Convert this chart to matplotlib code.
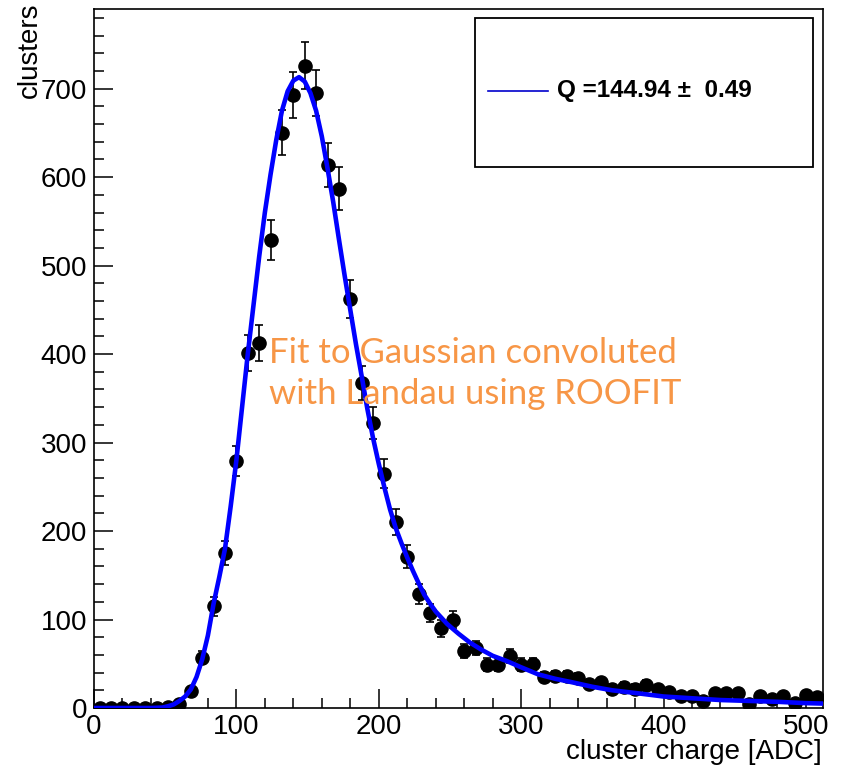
import numpy as np
import matplotlib.pyplot as plt
from matplotlib.ticker import MultipleLocator
from matplotlib.patches import Rectangle
from matplotlib.lines import Line2D

# histogram: 64 bins of 8 ADC from 0 to 512
bin_centers = np.arange(4, 512, 8)
counts = [0, 0, 0, 0, 0, 0, 1, 5, 19, 57,
          115, 175, 279, 401, 413, 529, 650, 693, 726, 695,
          614, 587, 462, 367, 322, 265, 210, 171, 129, 107,
          90, 100, 64, 68, 49, 49, 59, 49, 50, 35,
          36, 36, 34, 27, 29, 22, 24, 22, 26, 21,
          18, 14, 14, 8, 17, 17, 17, 4, 14, 10,
          14, 6, 15, 12]
errors = np.sqrt(counts)

# fitted landau x gauss curve
fit_x = [0, 40, 48, 52, 56, 60, 64, 68, 72, 76, 80, 84, 88, 92, 96, 100,
         104, 108, 112, 116, 120, 124, 128, 132, 136, 140, 144, 148, 152,
         156, 160, 164, 168, 172, 176, 180, 184, 188, 192, 196, 200, 204,
         208, 212, 216, 220, 224, 228, 232, 236, 240, 248, 256, 264, 272,
         280, 290, 300, 312, 324, 336, 350, 364, 380, 400, 420, 440, 460,
         480, 500, 512]
fit_y = [0, 0, 0.5, 2, 4, 8, 13, 21, 35, 55, 82, 118, 148, 180, 228, 280,
         340, 400, 455, 510, 560, 603, 642, 675, 697, 709, 713, 708, 695,
         675, 646, 610, 572, 530, 489, 450, 411, 375, 338, 305, 276, 249,
         224, 203, 186, 170, 155, 141, 128, 118, 109, 95, 84, 74, 66,
         59, 53, 46, 38, 33, 29, 24, 20, 17, 13, 11, 9, 8,
         7, 5.5, 5]

fit_label = u"Q =144.94 \u00b1  0.49"
note = "Fit to Gaussian convoluted\nwith Landau using ROOFIT"

plt.rcParams['font.family'] = ['Liberation Sans', 'DejaVu Sans']

W, H = 842, 770
fig = plt.figure(figsize=(W / 100, H / 100), dpi=100)
ax = fig.add_axes([94 / W, 62 / H, (823 - 94) / W, (708 - 9) / H])

ax.errorbar(bin_centers, counts, yerr=errors, fmt='o', color='black',
            ms=9.5, elinewidth=1.2, capsize=3, capthick=1.2, zorder=3)
ax.plot(fit_x, fit_y, color='#0000ff', lw=3.3, zorder=4)

ax.set_xlim(0, 512)
ax.set_ylim(0, 790)
ax.set_xticks(range(0, 501, 100))
ax.set_yticks(range(0, 701, 100))
ax.xaxis.set_minor_locator(MultipleLocator(20))
ax.yaxis.set_minor_locator(MultipleLocator(20))
ax.tick_params(which='major', direction='in', length=14, width=1.1,
               labelsize=20, top=False, right=False)
ax.tick_params(which='minor', direction='in', length=7, width=1.1,
               top=False, right=False)
ax.tick_params(axis='x', pad=4)
ax.tick_params(axis='y', pad=5)
for s in ax.spines.values():
    s.set_linewidth(1.2)

fig.text(822 / W, 1 - 752 / H, 'cluster charge [ADC]', ha='right',
         va='center', fontsize=20)
fig.text(30 / W, 1 - 2 / H, 'clusters', rotation=90, ha='center',
         va='top', fontsize=20)

# legend box
fig.add_artist(Rectangle((475 / W, 1 - 167 / H), (813 - 475) / W, (167 - 18) / H,
                         transform=fig.transFigure, fill=False,
                         edgecolor='black', lw=1.3))
fig.add_artist(Line2D([488 / W, 548 / W], [1 - 91 / H, 1 - 91 / H],
                      transform=fig.transFigure, color='#0000cc', lw=1.2))
fig.text(557 / W, 1 - 91 / H, fit_label, ha='left', va='center',
         fontsize=17.5, fontweight='bold')

ax.text(123, 378, note, color='#f79646', fontsize=25, family='Lato',
        ha='left', va='center', linespacing=1.38, zorder=5)

fig.savefig('out.png', dpi=100)
